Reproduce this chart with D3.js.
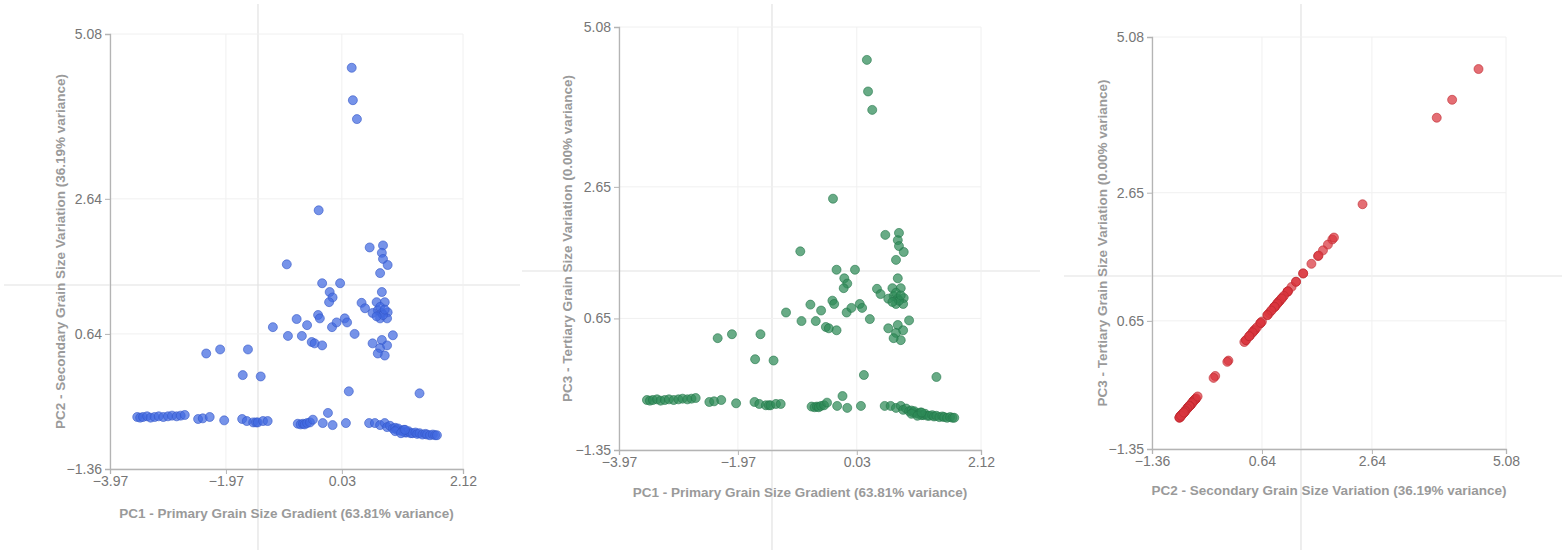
<!DOCTYPE html>
<html>
<head>
<meta charset="utf-8">
<script src="https://cdn.jsdelivr.net/npm/d3@7"></script>
<style>
  html, body { margin: 0; padding: 0; background: #fff; }
  svg { display: block; }
  .tick text { font-family: "Liberation Sans", Arial, sans-serif; font-size: 14px; }
  .axis-title { font-family: "Liberation Sans", Arial, sans-serif; font-size: 13.5px; font-weight: 700; fill: #9a9a9a; }
</style>
</head>
<body>
<svg id="chart" width="1562" height="550"></svg>
<script>
// Principal component scores for each sample
const pc1 = [
  0.20, 0.22, 0.29, -0.37,
  0.51, 0.74, 0.72, 0.74, 0.82, 0.69, -0.92,
  -0.31, 0.00, -0.18, -0.13, -0.19, 0.72, 0.37, 0.63, 0.77, 0.43, 0.65, 0.56, 0.72, 0.82, 0.69, 0.81,
  0.74, 0.69, 0.77, 0.63,
  -0.38, -0.35, -0.75, -0.57, -0.14, -0.06, 0.08, 0.12, -1.16, -0.90, -0.66, -0.49, -0.44, -0.31,
  0.25, 0.56, 0.72, 0.91, 0.69, 0.77, 0.81, 0.65,
  -2.31, -2.07, -1.59, -1.68, -1.37, 0.15, 1.37,
  -3.50, -3.45, -3.40, -3.33, -3.27, -3.20, -3.13, -3.05, -2.97, -2.90, -2.82, -2.75, -2.68,
  -2.45, -2.37, -2.25, -2.00,
  -1.69, -1.61, -1.50, -1.45, -1.42, -1.33, -1.25,
  -0.73, -0.68, -0.64, -0.61, -0.57, -0.52, -0.47,
  -0.21, -0.30, -0.13, 0.10,
  0.50, 0.60, 0.69, 0.77, 0.81, 0.86,
  0.91, 0.95, 0.98, 1.03, 1.00, 1.07, 1.10, 1.12, 1.15, 1.18, 1.22, 1.25, 1.30, 1.33, 1.37,
  1.42, 1.47, 1.50, 1.55, 1.60, 1.64, 1.67, 0.95, 1.05, 1.12
];
const pc2 = [
  4.58, 4.10, 3.82, 2.47,
  1.92, 1.95, 1.84, 1.75, 1.66, 1.54, 1.67,
  1.39, 1.39, 1.26, 1.18, 1.11, 1.26, 1.10, 1.11, 1.11, 1.02, 0.99, 0.95, 0.95, 0.96, 0.87, 0.87,
  0.92, 1.04, 1.00, 0.90,
  0.92, 0.87, 0.86, 0.77, 0.74, 0.81, 0.87, 0.81, 0.74, 0.61, 0.61, 0.52, 0.50, 0.47,
  0.64, 0.50, 0.55, 0.62, 0.43, 0.32, 0.47, 0.35,
  0.35, 0.41, 0.41, 0.03, 0.01, -0.21, -0.24,
  -0.59, -0.60, -0.59, -0.58, -0.60, -0.59, -0.58, -0.59, -0.58, -0.57, -0.58, -0.57, -0.56,
  -0.62, -0.61, -0.59, -0.64,
  -0.62, -0.65, -0.67, -0.67, -0.67, -0.65, -0.65,
  -0.69, -0.70, -0.69, -0.70, -0.68, -0.67, -0.63,
  -0.53, -0.68, -0.71, -0.68,
  -0.68, -0.68, -0.71, -0.68, -0.74, -0.72,
  -0.76, -0.75, -0.78, -0.79, -0.76, -0.80, -0.78, -0.82, -0.82, -0.80, -0.83, -0.83, -0.82, -0.84, -0.83,
  -0.85, -0.84, -0.85, -0.86, -0.85, -0.86, -0.86, -0.80, -0.83, -0.78
];
const pc3 = [
  4.58, 4.10, 3.82, 2.47,
  1.92, 1.95, 1.84, 1.75, 1.66, 1.54, 1.67,
  1.39, 1.39, 1.26, 1.18, 1.11, 1.26, 1.10, 1.11, 1.11, 1.02, 0.99, 0.95, 0.95, 0.96, 0.87, 0.87,
  0.92, 1.04, 1.00, 0.90,
  0.92, 0.87, 0.86, 0.77, 0.74, 0.81, 0.87, 0.81, 0.74, 0.61, 0.61, 0.52, 0.50, 0.47,
  0.64, 0.50, 0.55, 0.62, 0.43, 0.32, 0.47, 0.35,
  0.35, 0.41, 0.41, 0.03, 0.01, -0.21, -0.24,
  -0.59, -0.60, -0.59, -0.58, -0.60, -0.59, -0.58, -0.59, -0.58, -0.57, -0.58, -0.57, -0.56,
  -0.62, -0.61, -0.59, -0.64,
  -0.62, -0.65, -0.67, -0.67, -0.67, -0.65, -0.65,
  -0.69, -0.70, -0.69, -0.70, -0.68, -0.67, -0.63,
  -0.53, -0.68, -0.71, -0.68,
  -0.68, -0.68, -0.71, -0.68, -0.74, -0.72,
  -0.76, -0.75, -0.78, -0.79, -0.76, -0.80, -0.78, -0.82, -0.82, -0.80, -0.83, -0.83, -0.82, -0.84, -0.83,
  -0.85, -0.84, -0.85, -0.86, -0.85, -0.86, -0.86, -0.80, -0.83, -0.78
];

// Axis tick values (min, min+2, min+4, max)
const pc1Ticks = [-3.97, -1.97, 0.03, 2.12];
const pc2Ticks = [-1.36, 0.64, 2.64, 5.08];
const pc3Ticks = [-1.35, 0.65, 2.65, 5.08];

// Axis titles
const pc1Title = "PC1 - Primary Grain Size Gradient (63.81% variance)";
const pc2Title = "PC2 - Secondary Grain Size Variation (36.19% variance)";
const pc3Title = "PC3 - Tertiary Grain Size Variation (0.00% variance)";

const svg = d3.select("#chart");

const panels = [
  { xs: pc1, ys: pc2, xTicks: pc1Ticks, yTicks: pc2Ticks, xTitle: pc1Title, yTitle: pc2Title,
    color: "#4169e1", stroke: "#3357c8",
    box: { l: 110, r: 463, t: 34, b: 469 }, xTitleY: 518, yTitleX: 65,
    cross: { x: 258, y: 285, x0: 4, x1: 520 } },
  { xs: pc1, ys: pc3, xTicks: pc1Ticks, yTicks: pc3Ticks, xTitle: pc1Title, yTitle: pc3Title,
    color: "#2e8b57", stroke: "#23774a",
    box: { l: 619, r: 981, t: 27, b: 450 }, xTitleY: 497, yTitleX: 572,
    cross: { x: 772, y: 271, x0: 522, x1: 1040 } },
  { xs: pc2, ys: pc3, xTicks: pc2Ticks, yTicks: pc3Ticks, xTitle: pc2Title, yTitle: pc3Title,
    color: "#d9363e", stroke: "#c02a31",
    box: { l: 1152, r: 1506, t: 37, b: 449 }, xTitleY: 495, yTitleX: 1107,
    cross: { x: 1301, y: 276, x0: 1064, x1: 1562 } }
];

panels.forEach(p => {
  const g = svg.append("g");
  const { l, r, t, b } = p.box;
  const x = d3.scaleLinear().domain([p.xTicks[0], p.xTicks[p.xTicks.length - 1]]).range([l, r]);
  const y = d3.scaleLinear().domain([p.yTicks[0], p.yTicks[p.yTicks.length - 1]]).range([b, t]);

  // faint cursor guide lines
  g.append("line").attr("x1", p.cross.x).attr("x2", p.cross.x).attr("y1", 4).attr("y2", 550)
    .attr("stroke", "#e2e2e2").attr("stroke-width", 1.2);
  g.append("line").attr("x1", p.cross.x0).attr("x2", p.cross.x1).attr("y1", p.cross.y).attr("y2", p.cross.y)
    .attr("stroke", "#e2e2e2").attr("stroke-width", 1.2);

  // grid
  g.append("g").selectAll("line").data(p.xTicks).join("line")
    .attr("x1", d => x(d)).attr("x2", d => x(d)).attr("y1", t).attr("y2", b)
    .attr("stroke", "#f0f0f0").attr("stroke-width", 1);
  g.append("g").selectAll("line").data(p.yTicks).join("line")
    .attr("x1", l).attr("x2", r).attr("y1", d => y(d)).attr("y2", d => y(d))
    .attr("stroke", "#f0f0f0").attr("stroke-width", 1);

  // axes
  const xAxis = g.append("g").attr("transform", `translate(0,${b})`)
    .call(d3.axisBottom(x).tickValues(p.xTicks).tickFormat(d3.format(".2f")).tickSizeOuter(0).tickSize(5).tickPadding(2));
  const yAxis = g.append("g").attr("transform", `translate(${l},0)`)
    .call(d3.axisLeft(y).tickValues(p.yTicks).tickFormat(d3.format(".2f")).tickSizeOuter(0).tickSize(5).tickPadding(3));
  [xAxis, yAxis].forEach(a => {
    a.select(".domain").attr("stroke", "#b4b4b4").attr("stroke-width", 1.3);
    a.selectAll(".tick line").attr("stroke", "#b4b4b4");
    a.selectAll(".tick text").attr("fill", "#767676");
  });

  // points
  g.append("g").selectAll("circle").data(d3.range(p.xs.length)).join("circle")
    .attr("cx", i => x(p.xs[i])).attr("cy", i => y(p.ys[i])).attr("r", 4.5)
    .attr("fill", p.color).attr("fill-opacity", 0.72)
    .attr("stroke", p.stroke).attr("stroke-opacity", 0.6).attr("stroke-width", 1);

  // titles
  g.append("text").attr("class", "axis-title").attr("text-anchor", "middle")
    .attr("x", (l + r) / 2).attr("y", p.xTitleY).text(p.xTitle);
  g.append("text").attr("class", "axis-title").attr("text-anchor", "middle")
    .attr("transform", `translate(${p.yTitleX},${(t + b) / 2}) rotate(-90)`).text(p.yTitle);
});
</script>
</body>
</html>
